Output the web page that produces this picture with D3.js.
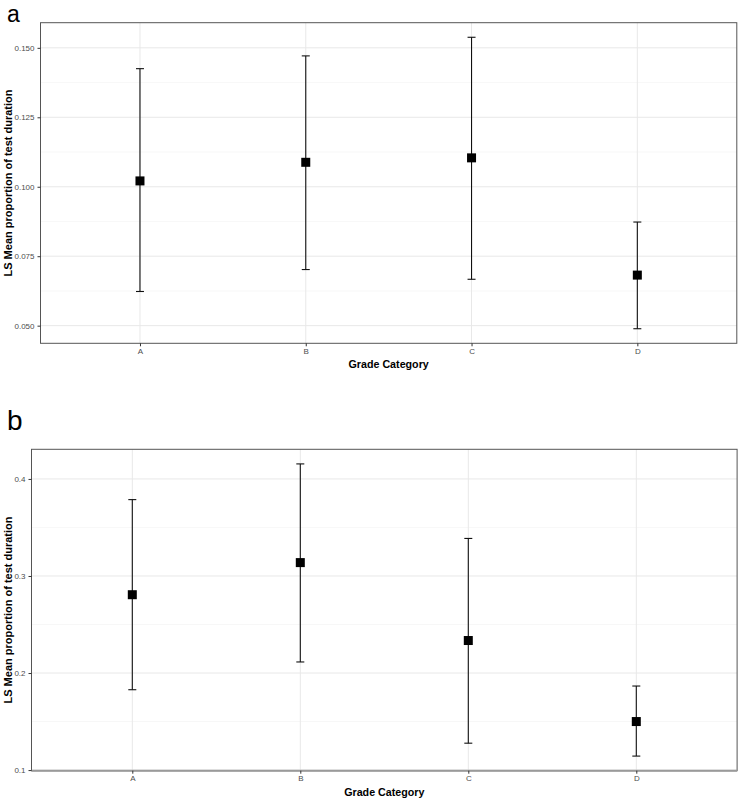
<!DOCTYPE html>
<html>
<head>
<meta charset="utf-8">
<script src="https://cdn.jsdelivr.net/npm/d3@7"></script>
<style>
  html, body { margin: 0; padding: 0; background: #fff; }
  svg { display: block; font-family: "Liberation Sans", Arial, sans-serif; }
</style>
</head>
<body>
<svg id="chart" width="740" height="800"></svg>
<script>
// ---------- data ----------
const categories = ["A", "B", "C", "D"];

const meanA  = [0.1021, 0.1088, 0.1104, 0.0682];
const lowerA = [0.0623, 0.0702, 0.0667, 0.0489];
const upperA = [0.1425, 0.1471, 0.1538, 0.0873];
const ticksA = [0.050, 0.075, 0.100, 0.125, 0.150];

const meanB  = [0.2807, 0.3138, 0.2335, 0.1500];
const lowerB = [0.1828, 0.2114, 0.1277, 0.1144];
const upperB = [0.3787, 0.4155, 0.3387, 0.1866];
const ticksB = [0.1, 0.2, 0.3, 0.4];

const xTitle = "Grade Category";
const yTitle = "LS Mean proportion of test duration";

// ---------- drawing ----------
const svg = d3.select("#chart");

function drawPanel(opt) {
  const { letter, letterY, letterSize, left, right, top, bottom, mean, lower, upper, ticks, fmt, thickBottom } = opt;
  const g = svg.append("g");

  const lo = d3.min(lower), hi = d3.max(upper);
  const pad = (hi - lo) * 0.05;
  const y = d3.scaleLinear().domain([lo - pad, hi + pad]).range([bottom, top]);
  const x = d3.scalePoint().domain(categories).range([left, right]).padding(0.6);

  // minor grid (midpoints between ticks)
  const step = ticks[1] - ticks[0];
  const minor = [];
  for (let i = -1; i < ticks.length; i++) {
    const v = (i < 0 ? ticks[0] - step / 2 : ticks[i] + step / 2);
    if (v > y.domain()[0] && v < y.domain()[1]) minor.push(v);
  }
  g.selectAll(".minor").data(minor).join("line")
    .attr("x1", left).attr("x2", right)
    .attr("y1", d => y(d)).attr("y2", d => y(d))
    .attr("stroke", "#f2f2f2").attr("stroke-width", 0.6);

  // major grid
  g.selectAll(".major").data(ticks).join("line")
    .attr("x1", left).attr("x2", right)
    .attr("y1", d => y(d)).attr("y2", d => y(d))
    .attr("stroke", "#e8e8e8").attr("stroke-width", 1);
  g.selectAll(".vgrid").data(categories).join("line")
    .attr("x1", d => x(d)).attr("x2", d => x(d))
    .attr("y1", top).attr("y2", bottom)
    .attr("stroke", "#e8e8e8").attr("stroke-width", 1);

  // error bars
  const idx = d3.range(categories.length);
  const cap = 4;
  g.selectAll(".eb").data(idx).join("line")
    .attr("x1", i => x(categories[i])).attr("x2", i => x(categories[i]))
    .attr("y1", i => y(lower[i])).attr("y2", i => y(upper[i]))
    .attr("stroke", "#111").attr("stroke-width", 1.1);
  g.selectAll(".capTop").data(idx).join("line")
    .attr("x1", i => x(categories[i]) - cap).attr("x2", i => x(categories[i]) + cap)
    .attr("y1", i => y(upper[i])).attr("y2", i => y(upper[i]))
    .attr("stroke", "#111").attr("stroke-width", 1.1);
  g.selectAll(".capBot").data(idx).join("line")
    .attr("x1", i => x(categories[i]) - cap).attr("x2", i => x(categories[i]) + cap)
    .attr("y1", i => y(lower[i])).attr("y2", i => y(lower[i]))
    .attr("stroke", "#111").attr("stroke-width", 1.1);

  // points (squares)
  const s = 9;
  g.selectAll(".pt").data(idx).join("rect")
    .attr("x", i => x(categories[i]) - s / 2)
    .attr("y", i => y(mean[i]) - s / 2)
    .attr("width", s).attr("height", s)
    .attr("fill", "#000");

  // panel border
  g.append("rect")
    .attr("x", left).attr("y", top)
    .attr("width", right - left).attr("height", bottom - top)
    .attr("fill", "none").attr("stroke", "#555").attr("stroke-width", 1);
  if (thickBottom) {
    g.append("line")
      .attr("x1", left).attr("x2", right).attr("y1", bottom).attr("y2", bottom)
      .attr("stroke", "#9a9a9a").attr("stroke-width", 2);
  }

  // y axis
  const yAxis = d3.axisLeft(y).tickValues(ticks).tickFormat(fmt).tickSize(3).tickPadding(3);
  const ya = g.append("g").attr("transform", `translate(${left},0)`).call(yAxis);
  ya.select(".domain").remove();
  ya.selectAll(".tick line").attr("stroke", "#333");
  ya.selectAll(".tick text").attr("fill", "#4d4d4d").attr("font-size", 8)
    .attr("font-family", "Liberation Sans, Arial, sans-serif");

  // x axis
  const xAxis = d3.axisBottom(x).tickSize(3).tickPadding(2);
  const xa = g.append("g").attr("transform", `translate(0,${bottom})`).call(xAxis);
  xa.select(".domain").remove();
  xa.selectAll(".tick line").attr("stroke", "#333");
  xa.selectAll(".tick text").attr("fill", "#4d4d4d").attr("font-size", 8)
    .attr("font-family", "Liberation Sans, Arial, sans-serif");

  // titles
  g.append("text")
    .attr("x", (left + right) / 2).attr("y", bottom + 25)
    .attr("text-anchor", "middle")
    .attr("font-size", 10.7).attr("font-weight", "bold").attr("fill", "#000")
    .text(xTitle);
  g.append("text")
    .attr("transform", `translate(12,${(top + bottom) / 2}) rotate(-90)`)
    .attr("text-anchor", "middle")
    .attr("font-size", 11).attr("font-weight", "bold").attr("fill", "#000")
    .text(yTitle);

  // panel letter
  g.append("text")
    .attr("x", 7).attr("y", letterY)
    .attr("font-size", letterSize).attr("fill", "#000")
    .text(letter);
}

drawPanel({
  letter: "a", letterY: 21.5, letterSize: 23,
  left: 40.5, right: 736.8, top: 22.7, bottom: 343.3,
  mean: meanA, lower: lowerA, upper: upperA, ticks: ticksA,
  fmt: d3.format(".3f"), thickBottom: false
});

drawPanel({
  letter: "b", letterY: 430, letterSize: 28,
  left: 31.5, right: 737.1, top: 449.3, bottom: 770.7,
  mean: meanB, lower: lowerB, upper: upperB, ticks: ticksB,
  fmt: d3.format(".1f"), thickBottom: true
});
</script>
</body>
</html>
